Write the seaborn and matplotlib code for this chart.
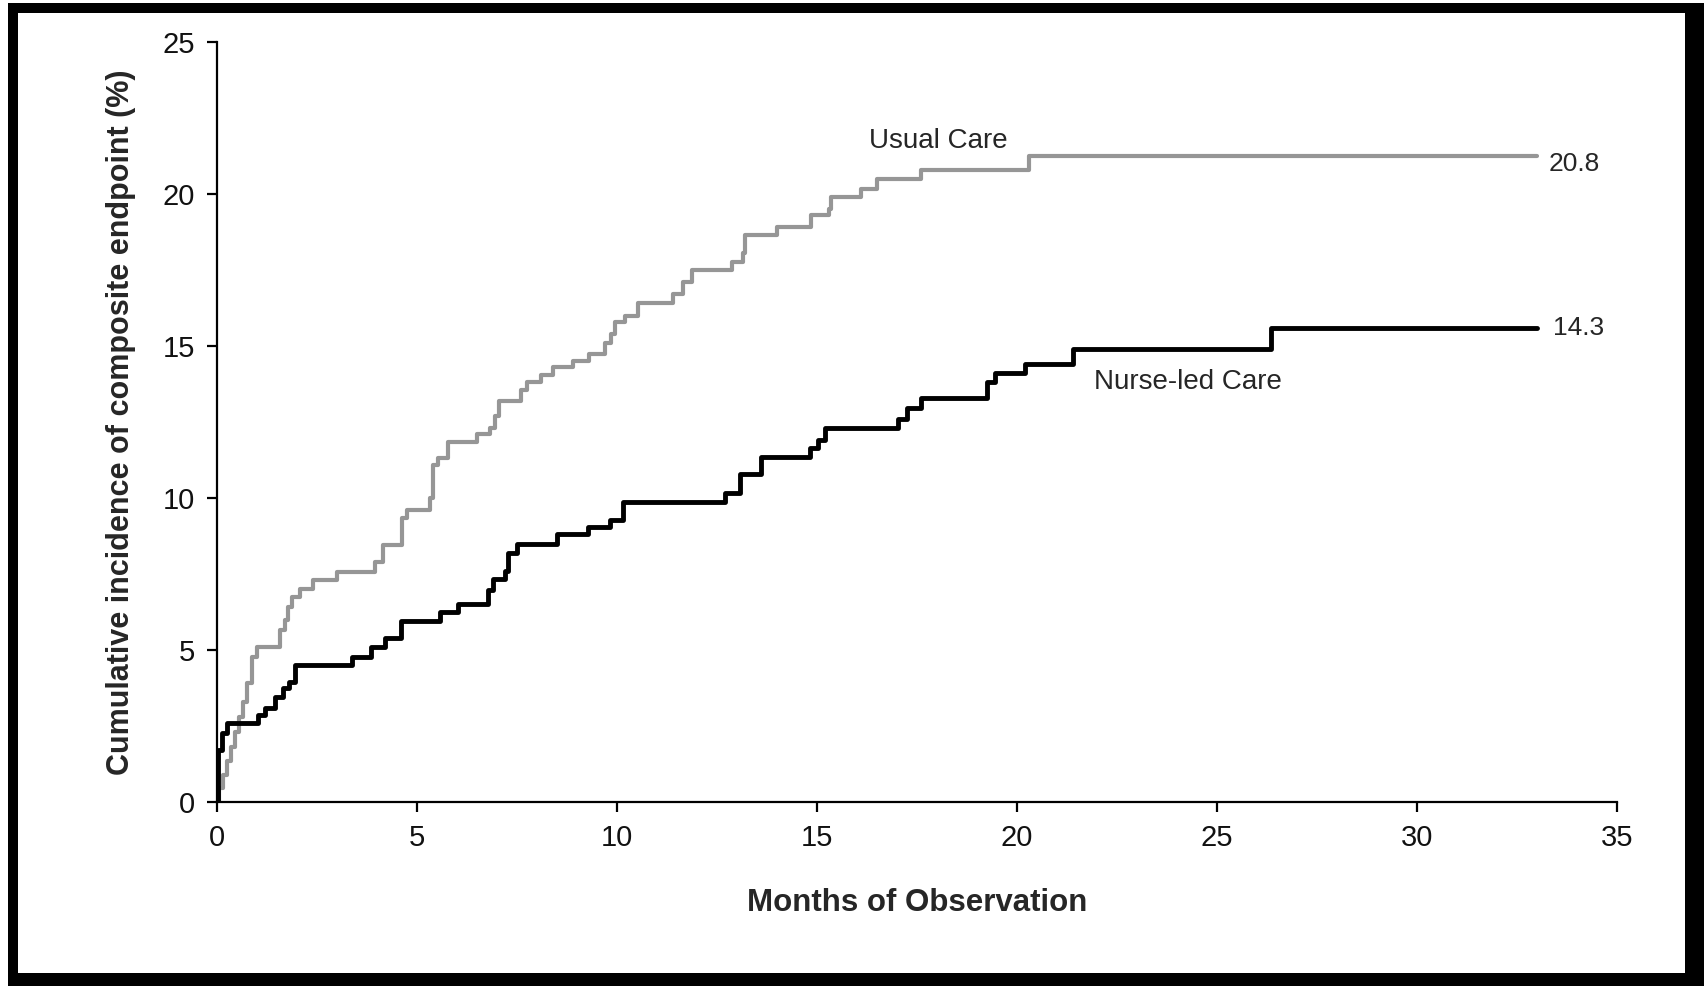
import matplotlib
matplotlib.use("Agg")
import matplotlib.pyplot as plt
from matplotlib.patches import Rectangle
import seaborn as sns

# step points (months, cumulative incidence %)
nurse_t = [0, 0.02, 0.12, 0.24, 1.03, 1.2, 1.45, 1.65, 1.8, 1.95, 3.38, 3.85, 4.2, 4.6,
           5.58, 6.03, 6.78, 6.9, 7.2, 7.28, 7.5, 8.5, 9.28, 9.83, 10.15, 12.7, 13.08, 13.6,
           14.83, 15.03, 15.2, 17.03, 17.25, 17.6, 19.25, 19.45, 20.2, 21.4, 26.35, 33.0]
nurse_v = [0, 1.7, 2.27, 2.6, 2.86, 3.1, 3.45, 3.75, 3.95, 4.5, 4.77, 5.1, 5.4, 5.95,
           6.25, 6.5, 6.97, 7.35, 7.6, 8.2, 8.5, 8.8, 9.05, 9.28, 9.87, 10.15, 10.8, 11.35,
           11.65, 11.9, 12.3, 12.6, 12.95, 13.3, 13.8, 14.1, 14.4, 14.9, 15.6, 15.6]

usual_t = [0, 0.05, 0.15, 0.25, 0.35, 0.45, 0.55, 0.65, 0.75, 0.88, 1.0, 1.58, 1.7, 1.78,
           1.88, 2.08, 2.4, 3.0, 3.95, 4.15, 4.62, 4.75, 5.33, 5.4, 5.53, 5.78, 6.5, 6.83,
           6.95, 7.05, 7.6, 7.75, 8.1, 8.4, 8.9, 9.3, 9.7, 9.85, 9.95, 10.2, 10.53, 11.4,
           11.65, 11.88, 12.88, 13.15, 13.2, 14.0, 14.85, 15.3, 15.35, 16.1, 16.5, 17.6,
           20.3, 33.0]
usual_v = [0, 0.45, 0.9, 1.35, 1.8, 2.3, 2.8, 3.3, 3.9, 4.77, 5.1, 5.65, 6.0, 6.4,
           6.75, 7.0, 7.3, 7.57, 7.9, 8.45, 9.35, 9.6, 10.0, 11.1, 11.3, 11.85, 12.1, 12.3,
           12.7, 13.2, 13.55, 13.8, 14.05, 14.3, 14.5, 14.75, 15.1, 15.4, 15.8, 16.0, 16.4, 16.7,
           17.1, 17.5, 17.76, 18.05, 18.65, 18.9, 19.3, 19.5, 19.9, 20.15, 20.5, 20.8,
           21.25, 21.25]

x_ticks = [0, 5, 10, 15, 20, 25, 30, 35]
y_ticks = [0, 5, 10, 15, 20, 25]
usual_end = "20.8"
nurse_end = "14.3"

sns.set_theme(style="white")
plt.rcParams["font.family"] = ["Liberation Sans", "DejaVu Sans"]

fig = plt.figure(figsize=(17.04, 9.86), dpi=100)
fig.patch.set_facecolor("white")
# black picture frame, kept behind the axes
fig.patches.append(Rectangle((8 / 1704, 0), 1, 983 / 986, transform=fig.transFigure,
                             facecolor="black", edgecolor="none", zorder=-10))
fig.patches.append(Rectangle((18 / 1704, 13 / 986), 1667 / 1704, 960 / 986,
                             transform=fig.transFigure, facecolor="white",
                             edgecolor="none", zorder=-9))

ax = fig.add_axes([217 / 1704, 184 / 986, 1400 / 1704, 760 / 986])
ax.set_zorder(5)
ax.set_facecolor("none")

sns.lineplot(x=usual_t, y=usual_v, ax=ax, color="#969696", lw=3.0,
             drawstyle="steps-post", estimator=None, sort=False)
sns.lineplot(x=nurse_t, y=nurse_v, ax=ax, color="black", lw=3.5,
             drawstyle="steps-post", estimator=None, sort=False)

ax.set_xlim(0, 35)
ax.set_ylim(0, 25)
ax.set_xticks(x_ticks)
ax.set_yticks(y_ticks)
sns.despine(ax=ax)
for side in ["left", "bottom"]:
    ax.spines[side].set_color("black")
    ax.spines[side].set_linewidth(1.6)
ax.tick_params(axis="both", which="major", direction="out", length=7, width=1.6,
               color="black", labelsize=21, labelcolor="#111111", pad=9,
               left=True, bottom=True)

ax.set_xlabel("Months of Observation", fontsize=22.5, fontweight="bold")
ax.set_ylabel("Cumulative incidence of composite endpoint (%)", fontsize=22,
              fontweight="bold")
ax.xaxis.set_label_coords(0.5, -0.113)
ax.yaxis.set_label_coords(-0.058, 0.5)

ax.text(16.3, 21.75, "Usual Care", fontsize=20, va="center", ha="left")
ax.text(21.93, 13.8, "Nurse-led Care", fontsize=20, va="center", ha="left")
ax.text(33.3, 21.0, usual_end, fontsize=19, va="center", ha="left")
ax.text(33.4, 15.6, nurse_end, fontsize=19, va="center", ha="left")

fig.savefig("out.png", dpi=100)
